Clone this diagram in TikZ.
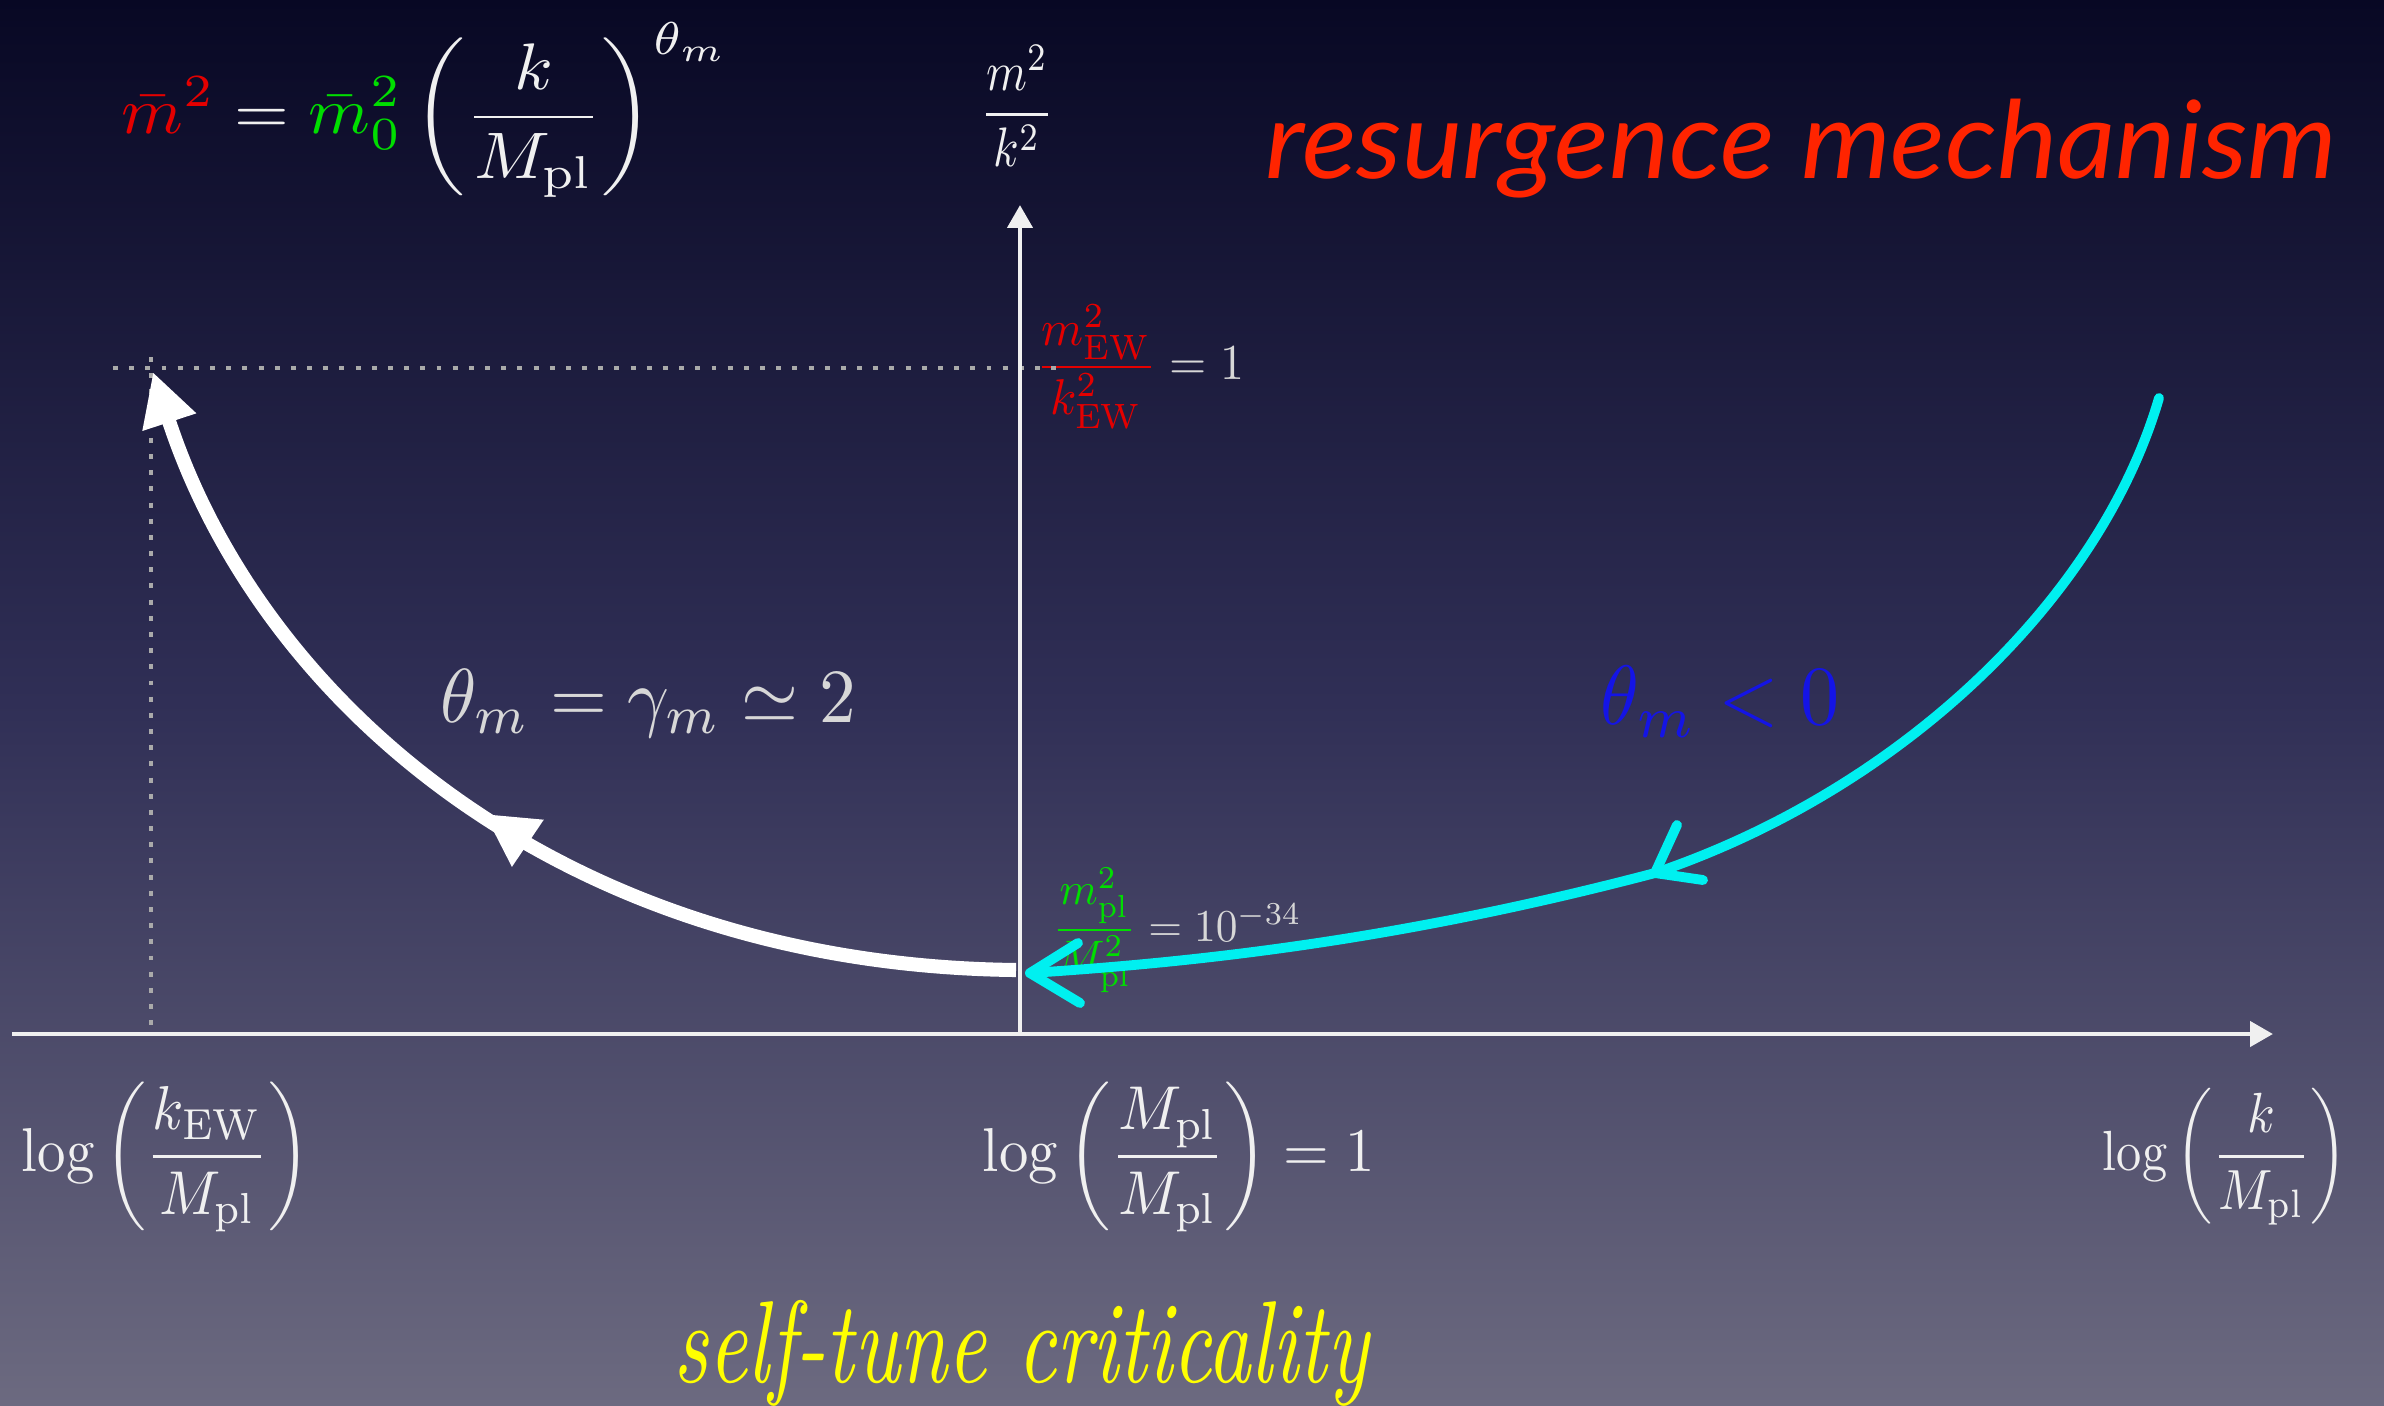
\documentclass[tikz,border=0pt]{standalone}
\usepackage{amsmath,graphicx}
\usepackage{fontspec}
\newfontfamily\handfont{Lato}
\usetikzlibrary{arrows.meta,decorations.markings}
\definecolor{bgtop}{RGB}{8,8,36}
\definecolor{bgmid}{RGB}{48,47,86}
\definecolor{bgbot}{RGB}{108,106,128}
\definecolor{mred}{RGB}{228,0,0}
\definecolor{mgreen}{RGB}{0,222,0}
\definecolor{mblue}{RGB}{20,20,230}
\definecolor{tred}{RGB}{255,36,0}
\definecolor{tyel}{RGB}{255,255,0}
\definecolor{cyanchalk}{RGB}{0,240,240}
\definecolor{wtxt}{RGB}{240,240,240}
\definecolor{gtxt}{RGB}{215,215,215}
\definecolor{dotgray}{RGB}{170,170,170}
\begin{document}
\begin{tikzpicture}[x=0.01cm,y=-0.01cm,
  lbl/.style={inner sep=0pt,outer sep=0pt,text=wtxt},
  axis/.style={draw=wtxt,line width=1.4pt,-{Triangle[length=6.5pt,width=7pt]}},
  guide/.style={draw=dotgray,line width=1.4pt,dash pattern=on 1.4pt off 3.2pt},
  flow/.style={draw=white,line width=4pt,-{Triangle[length=15pt,width=15pt]}},
  chalk/.style={draw=cyanchalk,line width=2.8pt,line cap=round,line join=round}]
\shade[top color=bgtop,bottom color=bgbot,middle color=bgmid] (0,0) rectangle (2384,1405);
\useasboundingbox (0,0) rectangle (2384,1405);

% texts
\node[lbl] (formula) at (426,110) {\resizebox*{6.08cm}{1.75cm}{$\displaystyle {\color{mred}\bar m^2} = {\color{mgreen}\bar m_0^2}\left(\frac{k}{M_{\mathrm{pl}}}\right)^{\theta_m}$}};
\node[lbl] (ylab) at (1017,106) {\resizebox*{0.73cm}{1.21cm}{$\dfrac{m^2}{k^2}$}};
\node[lbl,text=gtxt] (ew) at (1140,367) {\resizebox*{2.08cm}{1.25cm}{${\color{mred}\dfrac{m_{\mathrm{EW}}^2}{k_{\mathrm{EW}}^2}}=1$}};
\node[lbl,text=gtxt] (pl) at (1177,930) {\resizebox*{2.49cm}{1.25cm}{${\color{mgreen}\dfrac{m_{\mathrm{pl}}^2}{M_{\mathrm{pl}}^2}}=10^{-34}$}};
\node[lbl,text=gtxt] (thetaL) at (648,703) {\resizebox*{4.15cm}{0.68cm}{$\theta_m=\gamma_m\simeq2$}};
\node[lbl,text=mblue] (thetaR) at (1720,702) {\resizebox*{2.39cm}{0.71cm}{$\theta_m<0$}};
\node[lbl] (xl) at (166,1157) {\resizebox*{2.88cm}{1.50cm}{$\log\left(\dfrac{k_{\mathrm{EW}}}{M_{\mathrm{pl}}}\right)$}};
\node[lbl] (xm) at (1179,1157) {\resizebox*{3.92cm}{1.50cm}{$\log\left(\dfrac{M_{\mathrm{pl}}}{M_{\mathrm{pl}}}\right)=1$}};
\node[lbl] (xr) at (2225,1157) {\resizebox*{2.44cm}{1.37cm}{$\log\left(\dfrac{k}{M_{\mathrm{pl}}}\right)$}};
\node[lbl,text=tred] (title) at (1801,149) {\resizebox*{10.71cm}{0.99cm}{\handfont\itshape resurgence mechanism}};
\node[lbl,text=tyel] (sub) at (1021,1353) {\resizebox*{6.94cm}{1.06cm}{\itshape self-tune criticality}};

% dotted guides
\coordinate (hd0) at (113,368); \coordinate (hd1) at (1057,368);
\coordinate (vd0) at (151,357); \coordinate (vd1) at (151,1030);
\draw[guide] (hd0) -- (hd1);
\draw[guide] (vd0) -- (vd1);

% axes
\coordinate (O) at (1020,1034);
\coordinate (xs) at (12,1034);
\coordinate (xe) at (2273,1034);
\coordinate (yt) at (1020,205);
\draw[axis] (xs) -- (xe);
\draw[axis] (O) -- (yt);

% white flow arrow
\coordinate (ws) at (1016,970);
\coordinate (we) at (153,372);
\draw[flow, postaction={decorate}, decoration={markings, mark=at position 0.5 with {\arrow[white]{Triangle[length=15pt,width=15pt]}}}] (ws) .. controls (560,965) and (260,700) .. (we);

% cyan chalk arrow
\coordinate (cs) at (2159,398);
\coordinate (cm) at (1655,873);
\coordinate (ce) at (1030,973);
\coordinate (cmb1) at (1677,825);
\coordinate (cmb2) at (1703,880);
\coordinate (ceb1) at (1078,943);
\coordinate (ceb2) at (1080,1003);
\draw[chalk] (cs) .. controls (2100,600) and (1900,790) .. (cm) .. controls (1400,940) and (1200,962) .. (ce);
\draw[chalk] (cmb1) -- (cm) -- (cmb2);
\draw[chalk] (ceb1) -- (ce) -- (ceb2);
\end{tikzpicture}
\end{document}
